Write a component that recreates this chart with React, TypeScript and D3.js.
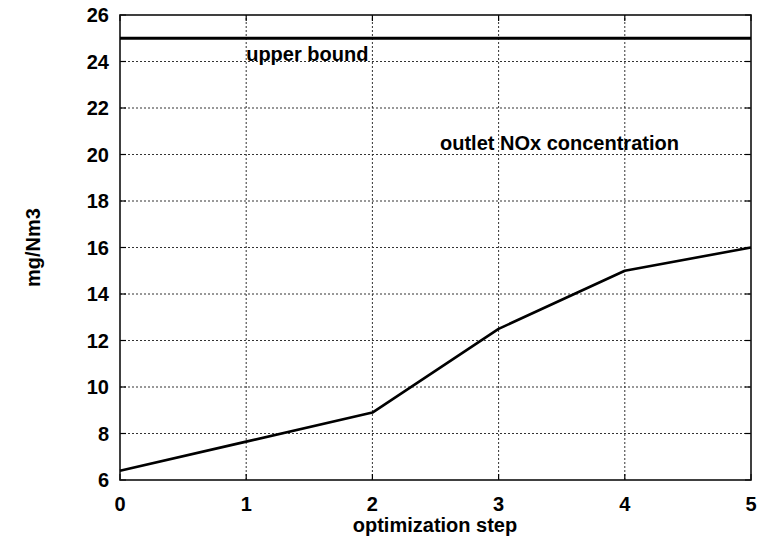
import React from "react";
import * as d3 from "d3";

// Optimization progress of outlet NOx concentration
const steps = [0, 1, 2, 3, 4, 5];
const noxValues = [6.4, 7.65, 8.9, 12.5, 15.0, 16.0];
const upperBound = 25;
const xTicks = [0, 1, 2, 3, 4, 5];
const yTicks = [6, 8, 10, 12, 14, 16, 18, 20, 22, 24, 26];

const W = 766;
const H = 539;
const margin = { left: 120, right: 15, top: 15, bottom: 59 };
const FONT = "'Liberation Sans', Arial, Helvetica, sans-serif";

export default function App() {
  const x = d3
    .scaleLinear()
    .domain([0, 5])
    .range([margin.left, W - margin.right]);
  const y = d3
    .scaleLinear()
    .domain([6, 26])
    .range([H - margin.bottom, margin.top]);

  const line = d3
    .line<number>()
    .x((_, i) => x(steps[i]))
    .y((d) => y(d));

  const x0 = x(0);
  const x1 = x(5);
  const y0 = y(6);
  const y1 = y(26);

  return (
    <svg
      width={W}
      height={H}
      style={{ position: "absolute", left: 0, top: 0, background: "#fff" }}
      fontFamily={FONT}
    >
      {/* dotted grid */}
      <g stroke="#333" strokeWidth={1} strokeDasharray="2,2">
        {xTicks
          .filter((t) => t > 0 && t < 5)
          .map((t) => (
            <line key={"gx" + t} x1={x(t)} x2={x(t)} y1={y0} y2={y1} />
          ))}
        {yTicks
          .filter((t) => t > 6 && t < 26)
          .map((t) => (
            <line key={"gy" + t} x1={x0} x2={x1} y1={y(t)} y2={y(t)} />
          ))}
      </g>

      {/* inward tick marks */}
      <g stroke="#000" strokeWidth={1.2}>
        {yTicks.map((t) => (
          <g key={"ty" + t}>
            <line x1={x0} x2={x0 + 6} y1={y(t)} y2={y(t)} />
            <line x1={x1} x2={x1 - 6} y1={y(t)} y2={y(t)} />
          </g>
        ))}
        {xTicks.map((t) => (
          <g key={"tx" + t}>
            <line x1={x(t)} x2={x(t)} y1={y0} y2={y0 - 6} />
            <line x1={x(t)} x2={x(t)} y1={y1} y2={y1 + 6} />
          </g>
        ))}
      </g>

      {/* frame */}
      <rect
        x={x0}
        y={y1}
        width={x1 - x0}
        height={y0 - y1}
        fill="none"
        stroke="#111"
        strokeWidth={1.6}
      />

      {/* upper bound */}
      <line
        x1={x0}
        x2={x1}
        y1={y(upperBound)}
        y2={y(upperBound)}
        stroke="#000"
        strokeWidth={3}
      />

      {/* NOx series */}
      <path
        d={line(noxValues) || ""}
        fill="none"
        stroke="#000"
        strokeWidth={2.6}
        strokeLinejoin="round"
      />

      {/* annotations */}
      <text x={x(1)} y={61} fontSize={20} fontWeight="bold" fill="#000">
        upper bound
      </text>
      <text x={440} y={150} fontSize={20} fontWeight="bold" fill="#000">
        outlet NOx concentration
      </text>

      {/* tick labels */}
      <g fontSize={20} fontWeight="bold" fill="#000">
        {yTicks.map((t) => (
          <text key={"ly" + t} x={x0 - 11} y={y(t)} dy="0.36em" textAnchor="end">
            {t}
          </text>
        ))}
        {xTicks.map((t) => (
          <text key={"lx" + t} x={x(t)} y={y0 + 31} textAnchor="middle">
            {t}
          </text>
        ))}
      </g>

      {/* axis titles */}
      <text
        x={435}
        y={532}
        textAnchor="middle"
        fontSize={20}
        fontWeight="bold"
        fill="#000"
      >
        optimization step
      </text>
      <text
        transform={`translate(40, ${(y0 + y1) / 2}) rotate(-90)`}
        textAnchor="middle"
        fontSize={20}
        fontWeight="bold"
        fill="#000"
      >
        mg/Nm3
      </text>
    </svg>
  );
}
